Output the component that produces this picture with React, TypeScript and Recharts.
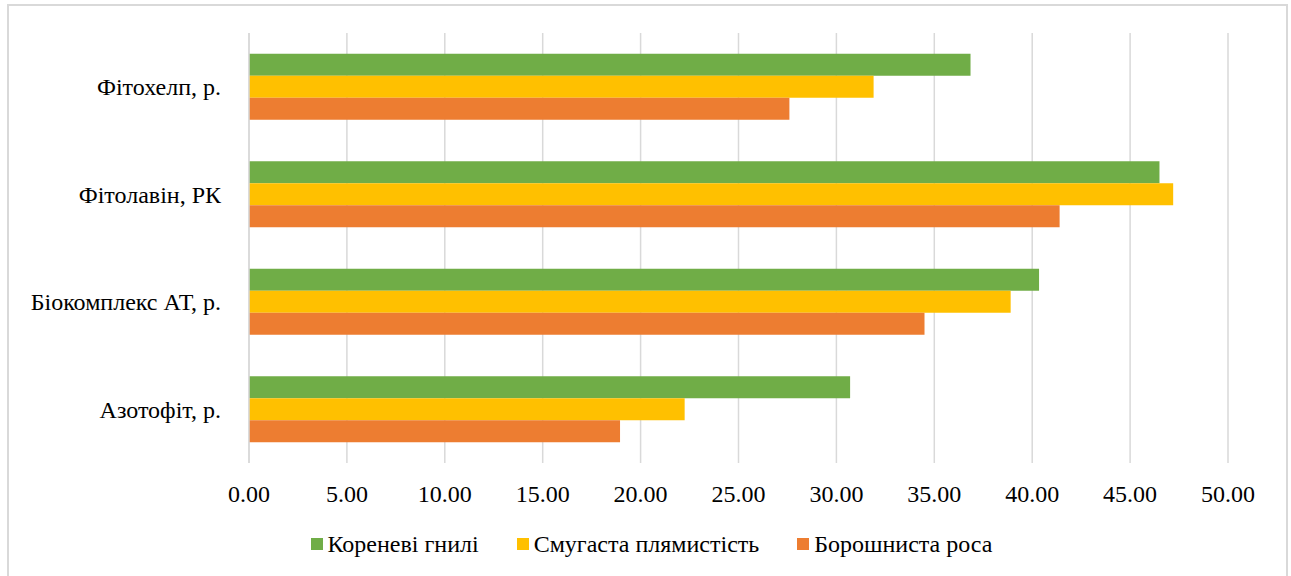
import { BarChart, Bar, XAxis, YAxis, CartesianGrid, Legend } from 'recharts'

const products = ['Фітохелп, р.', 'Фітолавін, РК', 'Біокомплекс АТ, р.', 'Азотофіт, р.']
const rootRot = [36.85, 46.5, 40.35, 30.7]
const stripeSpot = [31.9, 47.2, 38.9, 22.25]
const powderyMildew = [27.6, 41.4, 34.5, 18.95]
const xTicks = [0, 5, 10, 15, 20, 25, 30, 35, 40, 45, 50]

const seriesInfo = [
  { key: 'rootRot', name: 'Кореневі гнилі', color: '#70AD47' },
  { key: 'stripeSpot', name: 'Смугаста плямистість', color: '#FFC000' },
  { key: 'powderyMildew', name: 'Борошниста роса', color: '#ED7D31' },
]

const data = products.map((name, i) => ({
  name,
  rootRot: rootRot[i],
  stripeSpot: stripeSpot[i],
  powderyMildew: powderyMildew[i],
}))

const font = "'Times New Roman', 'Liberation Serif', Tinos, 'Noto Serif', 'DejaVu Serif', FreeSerif, Times, serif"

function LegendRow() {
  return (
    <div
      style={{
        display: 'flex',
        justifyContent: 'center',
        alignItems: 'center',
        height: 30,
        fontFamily: font,
        fontSize: 24,
        color: '#000',
        paddingLeft: 12,
      }}
    >
      {seriesInfo.map((s, i) => (
        <div
          key={s.key}
          style={{ display: 'flex', alignItems: 'center', marginRight: i < seriesInfo.length - 1 ? 38 : 0 }}
        >
          <span style={{ width: 12, height: 12, background: s.color, marginRight: 5, display: 'inline-block' }} />
          <span>{s.name}</span>
        </div>
      ))}
    </div>
  )
}

export default function App() {
  return (
    <div style={{ position: 'absolute', left: 0, top: 0, width: 1291, height: 576, overflow: 'hidden' }}>
      <div
        style={{
          position: 'absolute',
          left: 7,
          top: 4,
          width: 1277,
          height: 580,
          border: '2px solid #d9d9d9',
          background: '#fff',
        }}
      />
      <div style={{ position: 'absolute', left: 0, top: 0 }}>
        <BarChart
          width={1291}
          height={576}
          data={data}
          layout="vertical"
          margin={{ top: 33, right: 63, left: 0, bottom: 17 }}
          barCategoryGap="19.3%"
          barGap={0}
          style={{ fontFamily: font }}
        >
          <CartesianGrid horizontal={false} stroke="#d9d9d9" strokeWidth={1.5} />
          <XAxis
            type="number"
            domain={[0, 50]}
            ticks={xTicks}
            tickFormatter={(v: number) => v.toFixed(2)}
            axisLine={false}
            tickLine={false}
            tickSize={8}
            tickMargin={14}
            height={66}
            interval={0}
            tick={{ fontFamily: font, fontSize: 24, fill: '#000' }}
          />
          <YAxis
            type="category"
            dataKey="name"
            width={249}
            axisLine={{ stroke: '#d9d9d9', strokeWidth: 1.5 }}
            tickLine={false}
            tickSize={8}
            tickMargin={20}
            tick={{ fontFamily: font, fontSize: 24, fill: '#000' }}
          />
          <Legend
            verticalAlign="bottom"
            wrapperStyle={{ left: 0, width: 1291 }}
            content={() => <LegendRow />}
          />
          {seriesInfo.map((s) => (
            <Bar key={s.key} dataKey={s.key} name={s.name} fill={s.color} isAnimationActive={false} />
          ))}
        </BarChart>
      </div>
    </div>
  )
}
